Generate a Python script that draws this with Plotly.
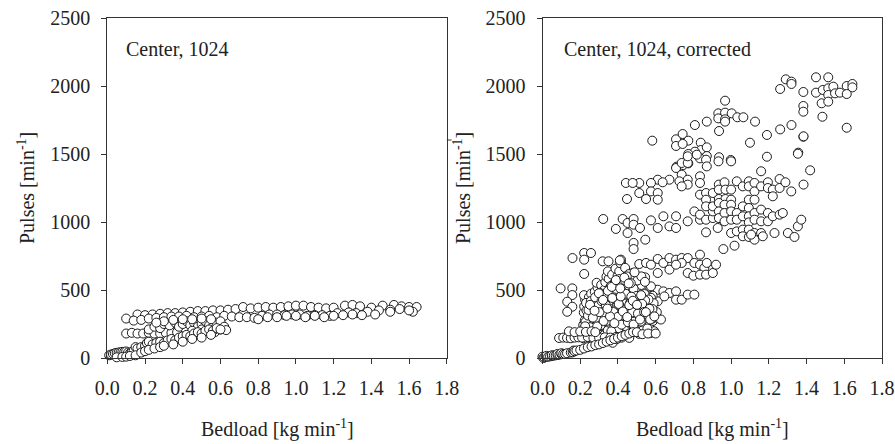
import plotly.graph_objects as go

# ---------------- Left panel: Center, 1024 ----------------
left_top_x = [0.16,0.2,0.24,0.28,0.32,0.36,0.4,0.44,0.48,0.52,0.56,0.6,0.64,0.68,0.72,0.76,0.8,0.84,0.88,0.92,0.96,1.0,1.04,1.08,1.12,1.16,1.2,1.26,1.3,1.34,1.4,1.46,1.52,1.56,1.6,1.64]
left_top_y = [320,315,320,325,330,330,335,340,345,345,350,350,355,360,375,365,370,375,370,375,380,385,385,375,370,365,370,385,390,380,370,385,390,380,375,375]
left_mid_x = [0.1,0.14,0.18,0.22,0.26,0.3,0.34,0.38,0.42,0.46,0.5,0.54,0.58,0.62,0.66,0.7,0.74,0.78,0.82,0.86,0.9,0.94,0.98,1.02,1.06,1.1,1.14,1.18,1.22,1.28,1.32,1.38,1.44,1.5,1.55,1.62]
left_mid_y = [290,275,280,290,295,300,305,305,310,300,305,310,300,310,305,300,300,295,310,320,320,315,320,320,310,315,315,310,330,335,330,340,350,355,360,340]
left_low_x = [0.8,0.85,0.9,0.95,1.0,1.05,1.1,1.15,1.2,1.25,1.3,1.35,1.42,1.5,1.6]
left_low_y = [285,300,300,310,310,300,310,300,310,315,320,315,320,340,350]
left_row_x = [0.1,0.13,0.16,0.19,0.22,0.25,0.28,0.31,0.34,0.37]
left_row_y = [180,185,180,180,185,180,180,185,185,190]
left_blob_x = [0.22,0.25,0.28,0.3,0.33,0.36,0.38,0.4,0.42,0.44,0.46,0.48,0.5,0.52,0.54,0.56,0.58,0.6,0.45,0.5,0.55,0.57,0.6,0.62,0.63,0.3,0.26,0.35,0.4,0.45,0.5,0.55]
left_blob_y = [210,230,220,250,240,260,230,250,270,240,260,230,250,270,240,230,260,270,200,210,200,190,210,230,205,270,260,280,285,285,290,285]
left_curve_x = [0.01,0.02,0.03,0.04,0.05,0.06,0.07,0.08,0.09,0.1,0.11,0.12,0.13,0.14,0.15,0.16,0.18,0.2,0.21,0.22,0.24,0.26,0.28,0.3,0.32,0.34,0.36,0.38,0.4,0.42,0.44,0.46,0.48,0.5,0.52,0.54,0.56,0.58,0.6]
left_curve_y = [20,25,30,35,38,40,42,45,45,48,40,35,45,55,80,70,80,90,110,120,100,110,120,110,130,140,130,150,160,170,160,180,190,180,200,210,200,220,210]
left_base_x = [0.05,0.08,0.1,0.12,0.15,0.18,0.2,0.22,0.25,0.28,0.3,0.35,0.4,0.45,0.5,0.55]
left_base_y = [5,8,10,15,20,40,50,60,70,80,90,100,120,140,150,170]

# ---------------- Right panel: Center, 1024, corrected ----------------
r_top_x = [1.29,1.32,1.32,1.45,1.515,1.26,1.383,1.45,1.486,1.515,1.542,1.515,1.551,1.577,1.613,1.643,1.643,1.613,1.48,1.515,1.383,1.383,1.484,1.613,1.32,1.26,1.19,1.383,1.356,1.19,1.10]
r_top_y = [2049,2032,2015,2064,2064,1978,1956,1951,1971,1983,1995,1934,1946,1951,2000,2015,1990,1941,1873,1885,1853,1811,1774,1693,1713,1681,1640,1627,1510,1480,1583]
r_hi_x = [0.968,0.932,0.968,1.003,1.033,1.065,0.932,0.968,0.968,1.127,0.871,0.808,0.936,0.582,0.708,0.743,0.773,0.708,0.743,0.839,0.839,0.871,0.808,0.773,0.871,0.835,0.936,0.998,0.711,0.746,0.773]
r_hi_y = [1892,1799,1804,1799,1770,1770,1762,1755,1738,1738,1738,1713,1669,1598,1608,1647,1598,1559,1574,1583,1529,1549,1517,1500,1485,1468,1476,1456,1407,1419,1431]
r_up_x = [0.708,0.738,0.77,0.77,0.818,0.867,0.871,0.933,1.0,0.738,0.726,0.77,0.77,0.738,0.673,0.611,0.637,0.575,0.575,0.611,0.611,0.549,0.513,0.513,0.442,0.478,0.448,0.835,0.835,0.835,0.867,0.867,0.903,0.935,0.935,0.935,0.965,0.97,0.97,1.0,1.0,1.03,1.062,1.094,1.094,1.124,1.124,1.094,1.124,1.159,1.159,1.195,1.195,1.221,1.221,1.257,1.257,1.288,1.319,1.384,1.419,1.354,1.384]
r_up_y = [1397,1434,1434,1483,1495,1458,1409,1446,1446,1348,1299,1311,1275,1262,1311,1311,1292,1287,1225,1213,1164,1169,1287,1213,1287,1287,1169,1336,1287,1201,1213,1164,1213,1275,1238,1169,1292,1238,1169,1238,1164,1299,1262,1299,1262,1287,1225,1164,1164,1373,1262,1292,1250,1238,1189,1316,1250,1292,1225,1275,1380,1502,1630]
r_k_x = [0.322,0.425,0.451,0.483,0.483,0.517,0.389,0.451,0.483,0.483,0.545,0.575,0.611,0.641,0.673,0.708,0.708,0.77,0.805,0.835,0.835,0.867,0.867,0.903,0.903,0.867,0.903,0.935,0.935,0.935,0.965,0.965,0.965,1.0,1.0,1.0,1.0,0.929,1.03,1.03,1.03,1.018,0.959,1.062,1.062,1.062,1.062,1.094,1.094,1.094,1.094,1.094,1.124,1.124,1.124,1.124,1.159,1.159,1.159,1.195,1.195,1.221,1.23,1.257,1.274,1.301,1.336,1.354,1.372,1.168,1.106]
r_k_y = [1022,1022,993,1022,980,956,949,919,846,801,870,1012,956,1042,968,1042,956,1005,1078,1017,1054,1017,924,1029,1078,1115,1115,1140,1078,1029,1127,1066,1005,1127,1078,1017,919,956,1066,1017,931,826,801,1115,1042,944,895,1103,1042,997,944,890,1066,1017,919,870,1091,1005,919,1066,1005,1042,919,1054,1066,919,890,968,1017,895,907]
r_mid_x = [0.159,0.221,0.221,0.257,0.221,0.319,0.35,0.416,0.416,0.416,0.513,0.549,0.575,0.611,0.611,0.641,0.673,0.708,0.738,0.77,0.738,0.673,0.708,0.805,0.835,0.835,0.858,0.871,0.77,0.8,0.835,0.867,0.903,0.92]
r_mid_y = [735,772,723,772,618,711,711,723,699,674,691,699,686,728,625,699,735,723,735,735,699,650,686,699,760,686,662,699,625,605,613,613,625,686]
r_lo_x = [0.611,0.641,0.673,0.708,0.708,0.738,0.77,0.805,0.611,0.646,0.584,0.549,0.575,0.513,0.513,0.478,0.478,0.096,0.158,0.158,0.131,0.158,0.131]
r_lo_y = [502,490,478,490,429,429,466,466,417,453,458,502,527,527,588,625,576,512,512,463,414,377,340]
r_blob_x = [0.218,0.223,0.216,0.224,0.219,0.221,0.226,0.22,
            0.247,0.254,0.249,0.243,0.256,0.251,0.246,0.258,
            0.272,0.266,0.275,0.268,0.279,0.271,0.264,0.277,
            0.291,0.286,0.296,0.289,0.294,0.283,0.298,0.292,0.287,
            0.313,0.305,0.316,0.309,0.318,0.307,0.314,0.311,
            0.334,0.327,0.338,0.331,0.325,0.336,0.329,0.333,0.339,
            0.352,0.346,0.357,0.349,0.355,0.344,0.358,0.351,0.347,
            0.372,0.366,0.377,0.368,0.375,0.364,0.371,0.378,0.369,
            0.393,0.386,0.397,0.389,0.395,0.384,0.391,0.398,0.387,
            0.411,0.405,0.416,0.409,0.414,0.403,0.412,0.407,0.413,0.41,
            0.432,0.426,0.437,0.429,0.435,0.424,0.431,0.438,
            0.452,0.446,0.457,0.449,0.455,0.444,0.451,0.458,
            0.472,0.466,0.477,0.469,0.475,0.464,0.471,
            0.492,0.486,0.497,0.489,0.495,0.484,0.491,
            0.512,0.506,0.517,0.509,0.515,0.504,0.511,
            0.532,0.526,0.537,0.529,0.535,0.524,
            0.552,0.546,0.557,0.549,0.555,0.544,
            0.572,0.566,0.577,0.569,0.575,
            0.592,0.586,0.597,0.589,
            0.612,0.606,0.628,
            0.236,0.262,0.281,0.302,0.322,0.341,0.362,0.381,0.401,0.421,0.442,0.461,0.482,0.502,0.522,0.541,0.562,0.583,
            0.233,0.258,0.283,0.303,0.323,0.343,0.363,0.383,0.404,0.423,0.444,0.463,0.483,0.503,0.524,0.543,
            0.305,0.325,0.345,0.366,0.386,0.406,0.427,0.447,0.468,0.488]
r_blob_y = [145,188,243,276,334,379,428,462,
            152,204,247,303,352,398,447,473,
            118,173,224,268,317,362,413,487,
            102,158,213,257,312,368,437,518,553,
            113,177,232,287,343,402,468,537,
            122,168,243,298,353,417,503,557,598,
            128,203,257,333,378,453,517,583,637,
            112,168,233,287,362,408,483,547,613,
            138,203,267,333,387,463,527,603,657,
            152,218,293,347,423,477,563,637,697,718,
            168,243,307,383,437,513,587,663,
            162,227,293,357,423,487,553,617,
            188,253,317,393,447,523,587,
            203,267,343,407,483,537,603,
            178,243,297,373,437,513,557,
            203,277,353,417,483,537,
            188,263,317,403,457,593,
            183,237,303,377,443,
            197,273,327,403,
            293,337,283,
            215,260,285,235,270,320,300,350,330,380,400,360,420,450,390,470,430,360,
            350,390,440,480,420,460,530,480,510,560,530,590,510,570,600,560,
            380,410,470,440,500,580,540,600,550,630]
r_fill_x = [0.228,0.241,0.253,0.262,0.274,0.285,0.297,0.308,0.319,0.331,0.342,0.353,0.365,0.376,0.387,0.399,0.408,0.419,0.43,0.441,0.453,0.464,0.476,0.487,0.498,0.509,0.521,0.532,0.544,0.556,0.567,0.579,
            0.231,0.244,0.256,0.267,0.279,0.29,0.302,0.313,0.324,0.336,0.347,0.358,0.37,0.381,0.392,0.404,0.415,0.426,0.437,0.449,0.46,0.471,0.483,0.494,0.506,0.517,0.528,0.539,
            0.226,0.252,0.276,0.299,0.321,0.344,0.367,0.389,0.412,0.434,0.457,0.479,0.501,0.523,0.548,0.571,0.593]
r_fill_y = [265,312,226,356,198,287,392,241,329,466,274,418,196,338,431,302,386,245,352,472,263,404,336,228,456,381,268,343,424,217,362,287,
            405,353,418,297,446,232,337,418,272,389,494,306,441,256,508,397,453,342,571,301,389,451,246,405,327,283,398,338,
            233,391,348,476,427,363,523,573,512,591,548,421,391,462,337,283,306]
r_band_x = [0.088,0.11,0.13,0.15,0.17,0.19,0.21,0.24,0.27,0.3,0.33,0.36,0.39,0.42,0.46,0.14,0.17,0.2,0.23,0.26,0.28]
r_band_y = [147,150,148,145,150,152,150,155,148,150,152,150,155,150,148,196,190,195,192,196,190]
r_curve_x = [0.0,0.005,0.01,0.02,0.02,0.03,0.04,0.05,0.05,0.06,0.07,0.08,0.08,0.09,0.1,0.1,0.11,0.12,0.13,0.15,0.16,0.165,0.17,0.18,0.2,0.22,0.24,0.26,0.28,0.3,0.32,0.34,0.36,0.38,0.4,0.42,0.44,0.46,0.48,0.5,0.53,0.56,0.6]
r_curve_y = [10,0,5,8,15,10,12,15,20,18,20,22,30,25,28,35,30,30,35,40,42,55,50,55,60,70,80,85,95,100,110,120,130,140,150,160,170,180,190,190,175,180,180]

left_x = left_top_x + left_mid_x + left_low_x + left_row_x + left_blob_x + left_curve_x + left_base_x
left_y = left_top_y + left_mid_y + left_low_y + left_row_y + left_blob_y + left_curve_y + left_base_y
right_x = r_top_x + r_hi_x + r_up_x + r_k_x + r_mid_x + r_lo_x + r_blob_x + r_fill_x + r_band_x + r_curve_x
right_y = r_top_y + r_hi_y + r_up_y + r_k_y + r_mid_y + r_lo_y + r_blob_y + r_fill_y + r_band_y + r_curve_y

x_ticks = [0.0,0.2,0.4,0.6,0.8,1.0,1.2,1.4,1.6,1.8]
y_ticks = [0,500,1000,1500,2000,2500]

FONT = "Liberation Serif, DejaVu Serif, Times New Roman, serif"
W, H = 895, 444

def px(x):
    return x / W

def py(y):
    return 1 - y / H

marker = dict(symbol="circle", size=9, color="white", line=dict(color="#1a1a1a", width=1))

fig = go.Figure()
fig.add_trace(go.Scatter(x=left_x, y=left_y, mode="markers", marker=marker, xaxis="x", yaxis="y", cliponaxis=False, showlegend=False))
fig.add_trace(go.Scatter(x=right_x, y=right_y, mode="markers", marker=marker, xaxis="x2", yaxis="y2", cliponaxis=False, showlegend=False))

ydom = [py(358), py(18)]
xdom1 = [px(107.3), px(446.8)]
xdom2 = [px(542.5), px(882.0)]

def xax(dom, anchor):
    return dict(domain=dom, anchor=anchor, range=[0, 1.8], tickvals=x_ticks, tickformat=".1f",
                automargin=False, ticklabeloverflow="allow",
                showgrid=False, zeroline=False, showline=True, mirror=True, linecolor="#333", linewidth=1,
                ticks="outside", ticklen=5, tickcolor="#333", ticklabelstandoff=7,
                tickfont=dict(family=FONT, size=20, color="#222"))

def yax(anchor):
    return dict(domain=ydom, anchor=anchor, range=[0, 2500], tickvals=y_ticks,
                automargin=False, ticklabeloverflow="allow",
                showgrid=False, zeroline=False, showline=True, mirror=True, linecolor="#333", linewidth=1,
                ticks="outside", ticklen=5, tickcolor="#333", ticklabelstandoff=7,
                tickfont=dict(family=FONT, size=20, color="#222"))

fig.update_layout(
    width=W, height=H, margin=dict(l=0, r=0, t=0, b=0, autoexpand=False),
    paper_bgcolor="white", plot_bgcolor="white",
    xaxis=xax(xdom1, "y"), yaxis=yax("x"),
    xaxis2=xax(xdom2, "y2"), yaxis2=yax("x2"),
    font=dict(family=FONT, size=20, color="#222"),
    hovermode=False,
)

ann = []
def A(text, x, y, **kw):
    d = dict(text=text, x=x, y=y, xref="paper", yref="paper", showarrow=False,
             font=dict(family=FONT, size=20, color="#222"))
    d.update(kw)
    ann.append(d)

A("Center, 1024", px(124), py(49), xanchor="left", yanchor="middle")
A("Center, 1024, corrected", px(562), py(49), xanchor="left", yanchor="middle")
A("Bedload [kg min<sup>-1</sup>]", px(277), py(428), xanchor="center", yanchor="middle")
A("Bedload [kg min<sup>-1</sup>]", px(712), py(428), xanchor="center", yanchor="middle")
A("Pulses [min<sup>-1</sup>]", px(26), py(188), xanchor="center", yanchor="middle", textangle=-90)
A("Pulses [min<sup>-1</sup>]", px(462), py(188), xanchor="center", yanchor="middle", textangle=-90)
fig.update_layout(annotations=ann)

# small stray tick on the right edge of the left frame
fig.add_shape(type="line", xref="paper", yref="paper", x0=px(446.8), x1=px(451.5),
              y0=py(140), y1=py(140), line=dict(color="#333", width=1))

# remove the default 8px page margin so the figure fills the window exactly
fig.write_html("out.html", config={"displayModeBar": False, "staticPlot": True},
               post_script="document.body.style.margin='0';document.body.style.overflow='hidden';")
